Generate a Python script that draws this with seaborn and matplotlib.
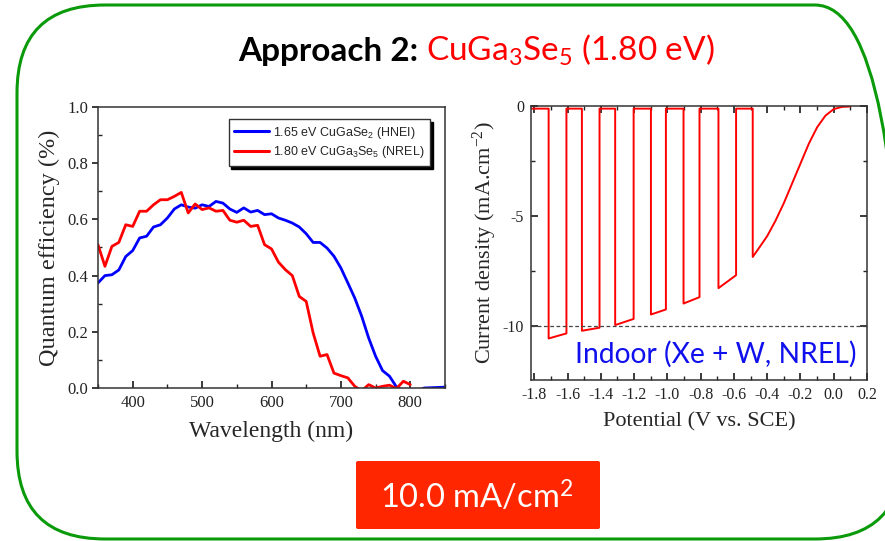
import matplotlib
matplotlib.use("Agg")
import matplotlib.pyplot as plt
from matplotlib.patches import FancyBboxPatch
from matplotlib.transforms import IdentityTransform
from matplotlib.ticker import MultipleLocator, FuncFormatter
import pandas as pd
import seaborn as sns

# ---------------- data ----------------
# External quantum efficiency spectra
wavelength_cgs = list(range(350, 851, 10))
qe_cgs = [0.374, 0.400, 0.403, 0.420, 0.468, 0.489, 0.534, 0.540, 0.573, 0.581,
          0.605, 0.637, 0.652, 0.644, 0.640, 0.652, 0.646, 0.664, 0.658, 0.637,
          0.625, 0.641, 0.626, 0.632, 0.617, 0.620, 0.605, 0.597, 0.587, 0.573,
          0.549, 0.518, 0.518, 0.498, 0.469, 0.427, 0.374, 0.320, 0.255, 0.178,
          0.113, 0.062, 0.042, 0.004, -0.010, -0.010, -0.010, 0.000, 0.001, 0.002,
          0.003]
wavelength_cg3s5 = list(range(350, 801, 10))
qe_cg3s5 = [0.510, 0.433, 0.504, 0.518, 0.581, 0.575, 0.629, 0.629, 0.652, 0.670,
            0.670, 0.682, 0.696, 0.623, 0.655, 0.635, 0.641, 0.629, 0.632, 0.597,
            0.590, 0.597, 0.575, 0.579, 0.510, 0.495, 0.448, 0.421, 0.400, 0.326,
            0.308, 0.196, 0.113, 0.119, 0.053, 0.044, 0.036, 0.006, -0.010, 0.012,
            0.000, 0.006, 0.010, -0.002, 0.024, 0.012]
qe_labels = ["1.65 eV CuGaSe$\\mathregular{_2}$ (HNEI)",
             "1.80 eV CuGa$\\mathregular{_3}$Se$\\mathregular{_5}$ (NREL)"]

# Chopped-light current-potential sweep
sweep_start_v = -1.82
dark_j = -0.10
light_on_v = [-1.714, -1.514, -1.314, -1.099, -0.903, -0.693]
light_off_v = [-1.607, -1.408, -1.203, -1.009, -0.807, -0.587]
j_pulse_start = [-10.56, -10.21, -9.95, -9.47, -8.97, -8.27]
j_pulse_end = [-10.33, -10.07, -9.67, -9.24, -8.68, -7.68]
tail_v = [-0.487, -0.45, -0.40, -0.35, -0.30, -0.25, -0.20, -0.15, -0.10, -0.05,
          0.00, 0.05, 0.10]
tail_j = [-6.85, -6.45, -5.90, -5.20, -4.40, -3.50, -2.60, -1.70, -0.95, -0.42,
          -0.12, -0.02, 0.00]
j_target = -10.0

# ---------------- style ----------------
sns.set_theme(style="white")
plt.rcParams.update({
    "font.family": ["Liberation Serif", "DejaVu Serif"],
    "axes.unicode_minus": False,
    "axes.edgecolor": "#333333",
    "axes.linewidth": 1.1,
})

W, H = 885, 541
fig = plt.figure(figsize=(W / 100, H / 100), dpi=100)
fig.patch.set_facecolor("white")


def px_axes(l, t, r, b):
    return fig.add_axes([l / W, 1 - b / H, (r - l) / W, (b - t) / H])


# rounded green frame
frame = FancyBboxPatch((17, H - 539), 886, 534,
                       boxstyle="round,pad=0,rounding_size=88",
                       transform=IdentityTransform(), facecolor="none",
                       edgecolor="#0a9a0a", linewidth=2.2, zorder=0)
fig.add_artist(frame)

# ---------------- QE panel ----------------
ax1 = px_axes(98, 107, 445, 388)
qe_df = pd.concat([
    pd.DataFrame({"wl": wavelength_cgs, "qe": qe_cgs, "cell": qe_labels[0]}),
    pd.DataFrame({"wl": wavelength_cg3s5, "qe": qe_cg3s5, "cell": qe_labels[1]}),
])
sns.lineplot(data=qe_df, x="wl", y="qe", hue="cell",
             palette=["#0000ff", "#ff0000"], linewidth=2.0,
             estimator=None, sort=False, ax=ax1)
ax1.set_xlim(350, 850)
ax1.set_ylim(0, 1.0)
ax1.xaxis.set_major_locator(MultipleLocator(100))
ax1.xaxis.set_minor_locator(MultipleLocator(50))
ax1.yaxis.set_major_locator(MultipleLocator(0.2))
ax1.yaxis.set_minor_locator(MultipleLocator(0.1))
ax1.yaxis.set_major_formatter(FuncFormatter(lambda v, p: f"{v:.1f}"))
ax1.tick_params(axis="x", which="both", direction="in", bottom=True,
                labelsize=12, pad=5, colors="#222222")
ax1.tick_params(axis="x", which="major", length=5)
ax1.tick_params(axis="x", which="minor", length=3)
ax1.tick_params(axis="y", which="major", direction="out", left=True,
                length=4, labelsize=12, pad=3, colors="#222222")
ax1.tick_params(axis="y", which="minor", direction="in", left=True, length=3)
ax1.set_xlabel("Wavelength (nm)", fontsize=17, labelpad=7)
ax1.set_ylabel("Quantum efficiency (%)", fontsize=17.5, labelpad=5)
leg = ax1.legend(loc="upper right", bbox_to_anchor=(0.957, 0.957),
                 borderaxespad=0, frameon=True, fancybox=False,
                 shadow={"color": "black", "alpha": 1},
                 prop={"family": ["Liberation Sans", "DejaVu Sans"], "size": 9},
                 handlelength=2.8, handletextpad=0.3, labelspacing=0.3,
                 borderpad=0.45)
leg.get_frame().set_edgecolor("#333333")
leg.get_frame().set_linewidth(1.0)
for ln in leg.get_lines():
    ln.set_linewidth(2.2)

# ---------------- J-V panel ----------------
ax2 = px_axes(531, 106, 867, 380)
jv_v = [sweep_start_v]
jv_j = [dark_j]
for v_on, v_off, j0, j1 in zip(light_on_v, light_off_v, j_pulse_start, j_pulse_end):
    jv_v += [v_on, v_on, v_off, v_off]
    jv_j += [dark_j, j0, j1, dark_j]
jv_v += [tail_v[0]] + tail_v
jv_j += [dark_j] + tail_j
jv_df = pd.DataFrame({"E": jv_v, "J": jv_j})
sns.lineplot(data=jv_df, x="E", y="J", color="#ff0000", linewidth=1.4,
             estimator=None, sort=False, ax=ax2)
ax2.axhline(j_target, color="#444444", linewidth=0.9, linestyle=(0, (3, 2)))
ax2.set_xlim(-1.82, 0.2)
ax2.set_ylim(-12.45, 0.02)
ax2.xaxis.set_major_locator(MultipleLocator(0.2))
ax2.xaxis.set_minor_locator(MultipleLocator(0.1))
ax2.yaxis.set_major_locator(MultipleLocator(5))
ax2.yaxis.set_minor_locator(MultipleLocator(2.5))
ax2.xaxis.set_major_formatter(FuncFormatter(lambda v, p: f"{v:.1f}"))
ax2.yaxis.set_major_formatter(FuncFormatter(lambda v, p: f"{v:.0f}"))
ax2.tick_params(which="both", direction="in", top=True, right=True,
                bottom=True, left=True, labelsize=11.5, colors="#222222")
ax2.tick_params(which="major", length=5, pad=5)
ax2.tick_params(which="minor", length=3)
ax2.set_xlabel("Potential (V vs. SCE)", fontsize=16, labelpad=7)
ax2.set_ylabel("Current density (mA.cm$\\mathregular{^{-2}}$)", fontsize=16,
               labelpad=3)
ax2.text(0.97, 0.095, "Indoor (Xe + W, NREL)", transform=ax2.transAxes,
         ha="right", va="center", color="#1010ee", fontsize=20.3,
         family=["Lato", "DejaVu Sans"])

# ---------------- headline and result box ----------------
renderer = fig.canvas.get_renderer()
t1 = fig.text(238 / W, 1 - 61 / H, "Approach 2: ", fontsize=24,
              fontweight="bold", family=["Lato", "DejaVu Sans"], color="black",
              ha="left", va="baseline")
bb = t1.get_window_extent(renderer)
fig.text(bb.x1 / W, 1 - 61 / H,
         "CuGa$\\mathregular{_3}$Se$\\mathregular{_5}$ (1.80 eV)", fontsize=24,
         family=["Lato", "DejaVu Sans"], color="#ff0000", ha="left",
         va="baseline")

box = FancyBboxPatch((356, H - 529), 244, 68,
                     boxstyle="round,pad=0,rounding_size=2",
                     transform=IdentityTransform(),
                     facecolor="#ff2600", edgecolor="none")
fig.add_artist(box)
fig.text(477 / W, 1 - 497 / H, "10.0 mA/cm$\\mathregular{^2}$", color="white",
         fontsize=23.5, family=["Lato", "DejaVu Sans"], ha="center", va="center")

fig.savefig("out.png", dpi=100, facecolor="white")
